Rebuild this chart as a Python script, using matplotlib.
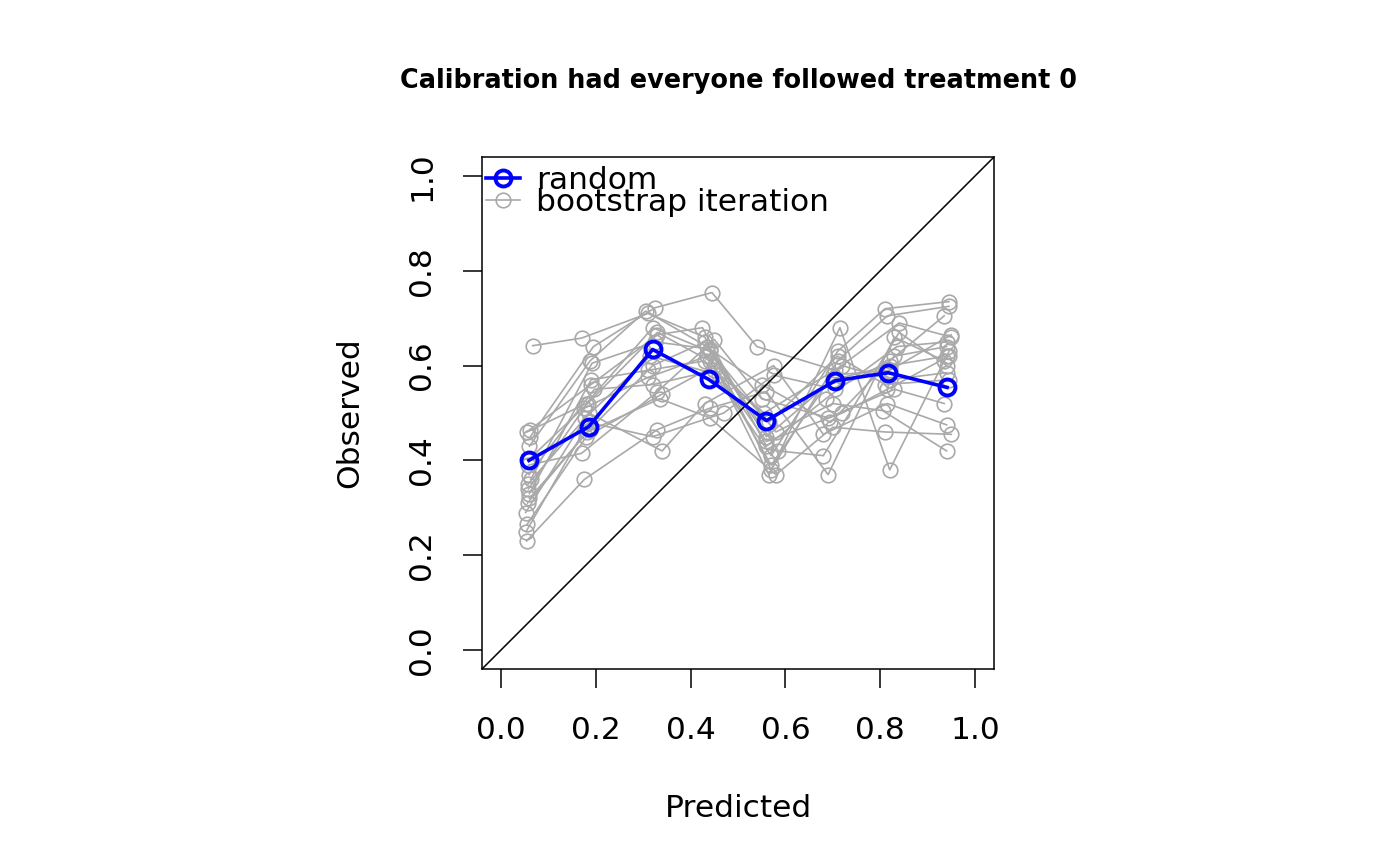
import matplotlib
matplotlib.use("Agg")
import matplotlib.pyplot as plt
from matplotlib.lines import Line2D
import numpy as np

# main calibration curve ("random")
main_x = [0.059, 0.185, 0.320, 0.438, 0.560, 0.705, 0.817, 0.941]
main_y = [0.400, 0.471, 0.634, 0.571, 0.484, 0.568, 0.585, 0.554]

# bootstrap iterations: per-bin predicted (x) and observed (y) values, 18 iterations
bx1 = [0.055, 0.060, 0.058, 0.052, 0.062, 0.057, 0.060, 0.054, 0.067, 0.059, 0.056, 0.061, 0.053, 0.058, 0.063, 0.055, 0.060, 0.057]
by1 = [0.460, 0.330, 0.390, 0.290, 0.450, 0.350, 0.430, 0.230, 0.642, 0.370, 0.310, 0.465, 0.250, 0.340, 0.360, 0.265, 0.320, 0.400]
bx2 = [0.180, 0.190, 0.170, 0.185, 0.195, 0.178, 0.188, 0.176, 0.170, 0.197, 0.182, 0.190, 0.185, 0.175, 0.192, 0.180, 0.187, 0.183]
by2 = [0.520, 0.570, 0.415, 0.500, 0.640, 0.490, 0.610, 0.360, 0.658, 0.550, 0.460, 0.560, 0.480, 0.510, 0.605, 0.450, 0.465, 0.520]
bx3 = [0.320, 0.310, 0.330, 0.340, 0.325, 0.315, 0.305, 0.330, 0.310, 0.320, 0.335, 0.330, 0.320, 0.310, 0.325, 0.340, 0.320, 0.330]
by3 = [0.680, 0.590, 0.545, 0.420, 0.722, 0.620, 0.715, 0.465, 0.710, 0.560, 0.530, 0.665, 0.450, 0.575, 0.650, 0.540, 0.600, 0.670]
bx4 = [0.440, 0.430, 0.450, 0.430, 0.445, 0.460, 0.435, 0.440, 0.430, 0.450, 0.440, 0.425, 0.470, 0.435, 0.440, 0.450, 0.430, 0.440]
by4 = [0.630, 0.610, 0.655, 0.520, 0.754, 0.580, 0.640, 0.510, 0.660, 0.590, 0.490, 0.680, 0.500, 0.620, 0.635, 0.600, 0.650, 0.610]
bx5 = [0.560, 0.570, 0.550, 0.575, 0.540, 0.565, 0.580, 0.560, 0.570, 0.555, 0.580, 0.560, 0.575, 0.565, 0.550, 0.570, 0.585, 0.560]
by5 = [0.450, 0.410, 0.530, 0.600, 0.640, 0.370, 0.460, 0.545, 0.380, 0.500, 0.370, 0.430, 0.580, 0.480, 0.560, 0.390, 0.420, 0.440]
bx6 = [0.700, 0.710, 0.690, 0.680, 0.705, 0.715, 0.700, 0.690, 0.710, 0.720, 0.700, 0.685, 0.705, 0.710, 0.695, 0.700, 0.680, 0.720]
by6 = [0.570, 0.630, 0.490, 0.455, 0.590, 0.680, 0.520, 0.370, 0.610, 0.600, 0.470, 0.530, 0.550, 0.620, 0.480, 0.580, 0.410, 0.500]
bx7 = [0.820, 0.810, 0.830, 0.815, 0.840, 0.820, 0.805, 0.830, 0.815, 0.820, 0.810, 0.835, 0.820, 0.810, 0.830, 0.820, 0.840, 0.815]
by7 = [0.600, 0.720, 0.550, 0.520, 0.690, 0.380, 0.505, 0.660, 0.705, 0.570, 0.460, 0.640, 0.610, 0.560, 0.620, 0.590, 0.670, 0.550]
bx8 = [0.940, 0.945, 0.935, 0.940, 0.950, 0.945, 0.940, 0.935, 0.945, 0.940, 0.950, 0.940, 0.935, 0.945, 0.940, 0.950, 0.940, 0.945]
by8 = [0.620, 0.735, 0.520, 0.475, 0.660, 0.630, 0.420, 0.610, 0.725, 0.585, 0.455, 0.650, 0.705, 0.570, 0.640, 0.665, 0.600, 0.620]

tick_vals = [0.0, 0.2, 0.4, 0.6, 0.8, 1.0]
tick_labels = ["0.0", "0.2", "0.4", "0.6", "0.8", "1.0"]
title = "Calibration had everyone followed treatment 0"

boot_x = np.array([bx1, bx2, bx3, bx4, bx5, bx6, bx7, bx8]).T
boot_y = np.array([by1, by2, by3, by4, by5, by6, by7, by8]).T

plt.rcParams['font.family'] = ['DejaVu Sans']
fig = plt.figure(figsize=(14, 8.66), dpi=100)
ax = fig.add_axes([482/1400, 1-669/866, (994-482)/1400, (669-157)/866])

gray = '#A9A9A9'
blue = '#0000FF'
FS = 22.5
for xs, ys in zip(boot_x, boot_y):
    ax.plot(xs, ys, color=gray, lw=1.2, marker='o', ms=10.5, mfc='none',
            mec=gray, mew=1.2, zorder=2)

ax.plot([-0.04, 1.04], [-0.04, 1.04], color='black', lw=1.1, zorder=3)

ax.plot(main_x, main_y, color=blue, lw=2.6, marker='o', ms=11.5,
        mfc='none', mec=blue, mew=2.8, zorder=4)

ax.set_xlim(-0.04, 1.04)
ax.set_ylim(-0.04, 1.04)
ax.set_xticks(tick_vals)
ax.set_xticklabels(tick_labels)
ax.set_yticks(tick_vals)
ax.set_yticklabels(tick_labels, rotation=90, va='center')
ax.tick_params(axis='x', length=14, width=1.1, labelsize=FS, pad=20, direction='out')
ax.tick_params(axis='y', length=14, width=1.1, labelsize=FS, pad=19, direction='out')
for s in ax.spines.values():
    s.set_linewidth(1.1)

ax.set_xlabel("Predicted", fontsize=FS, labelpad=35)
ax.set_ylabel("Observed", fontsize=FS, labelpad=31)
ax.set_title(title, fontsize=18.4, fontweight='bold', pad=50)

handles = [
    Line2D([], [], color=blue, lw=2.6, marker='o', ms=11.5, mfc='none', mec=blue, mew=2.8),
    Line2D([], [], color=gray, lw=1.2, marker='o', ms=10.5, mfc='none', mec=gray, mew=1.2),
]
ax.legend(handles, ["random", "bootstrap iteration"], loc='upper left', frameon=False,
          fontsize=FS, labelspacing=-0.23, handlelength=1.1, handletextpad=0.5,
          borderaxespad=0.0, borderpad=0.25, bbox_to_anchor=(-0.008, 0.998))

fig.savefig("out.png", dpi=100)
